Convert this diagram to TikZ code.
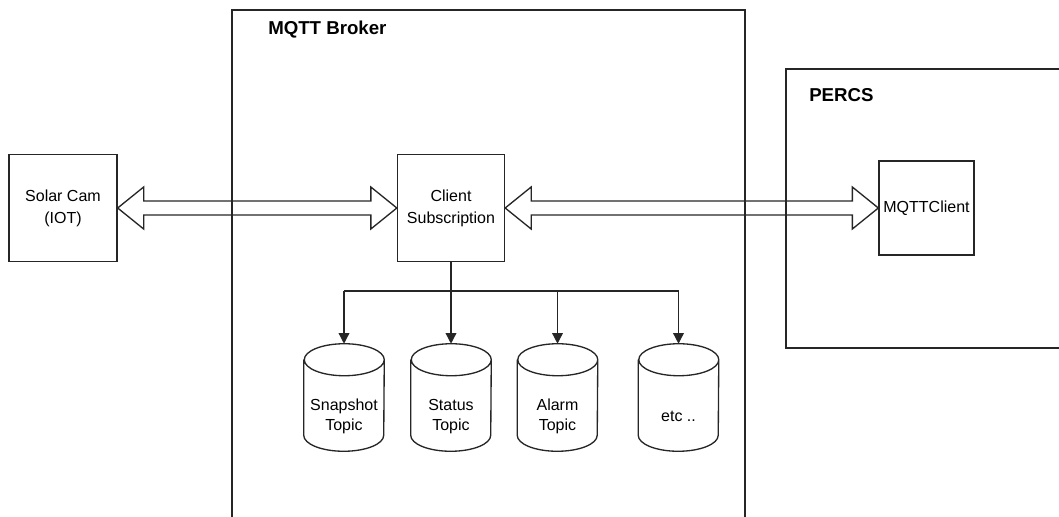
\documentclass[tikz,border=0pt]{standalone}
\usepackage{fontspec}
\setmainfont{Liberation Sans}
\usetikzlibrary{positioning,arrows.meta,calc}

\tikzset{
  line/.style={line width=1pt,draw=black!85},
  box/.style={line,draw,align=center,inner sep=0pt,font=\fontsize{12}{16.5}\selectfont},
  topic/.style={inner sep=0pt,minimum width=60pt,minimum height=80.25pt},
  topictext/.style={align=center,inner sep=0pt,yshift=-14.5pt,font=\fontsize{12}{15}\selectfont},
  title/.style={anchor=west,inner sep=0pt,font=\fontsize{14}{16}\selectfont\bfseries},
  feed/.style={line,-{Triangle[length=8pt,width=8pt]}},
}
% hollow block arrow with heads at both ends
\newcommand{\fatarrow}[2]{%
  \draw[line] (#1.east) -- ($(#1.east)+(26,-21)$) -- ($(#1.east)+(26,-7)$)
    -- ($(#2.west)+(-26,-7)$) -- ($(#2.west)+(-26,-21)$) -- (#2.west)
    -- ($(#2.west)+(-26,21)$) -- ($(#2.west)+(-26,7)$)
    -- ($(#1.east)+(26,7)$) -- ($(#1.east)+(26,21)$) -- cycle;}

\begin{document}
\begin{tikzpicture}[x=0.75pt,y=-0.75pt]
\useasboundingbox (0,0) rectangle (1059,517);
\clip (0,0) rectangle (1059,517);
% frames
\draw[line] (232,530) |- (745,10) -- (745,530);
\node[title] (brokertitle) at (268,30) {MQTT Broker};
\draw[line] (1070,69) -| (786,348) -- (1070,348);
\node[title] (percstitle) at (809,95) {PERCS};
% boxes
\node[box,minimum width=81pt,minimum height=80.25pt] (cam) at (63,208) {Solar Cam\\(IOT)};
\node[box,minimum width=80.25pt,minimum height=80.25pt] (sub) at (451,208) {Client\\Subscription};
\node[box,minimum width=71.25pt,minimum height=70.5pt] (client) at (926.5,208) {MQTTClient};
\fatarrow{cam}{sub}
\fatarrow{sub}{client}
% topics
\node[topic,label={[topictext]center:Snapshot\\Topic}] (snap) at (344,397.5) {};
\node[topic,label={[topictext]center:Status\\Topic}] (stat) at (451,397.5) {};
\node[topic,label={[topictext]center:Alarm\\Topic}] (alarm) at (557.5,397.5) {};
\node[topic,label={[topictext]center:etc ..}] (etc) at (678.5,397.5) {};
\foreach \t in {snap,stat,alarm,etc}
  \draw[line] ($(\t.north west)+(0,16)$) -- ($(\t.south west)+(0,-16)$)
    arc[start angle=180,end angle=0,x radius=40,y radius=16]
    -- ($(\t.north east)+(0,16)$)
    arc[start angle=0,end angle=-180,x radius=40,y radius=16]
    arc[start angle=180,end angle=0,x radius=40,y radius=16];
\coordinate (split) at (451,291);
\draw[line] (sub.south) -- (split);
\draw[line] (snap.north |- split) -- (etc.north |- split);
\foreach \t in {snap,stat,alarm,etc}
  \draw[feed] (split -| \t.north) -- (\t.north);
\end{tikzpicture}
\end{document}
